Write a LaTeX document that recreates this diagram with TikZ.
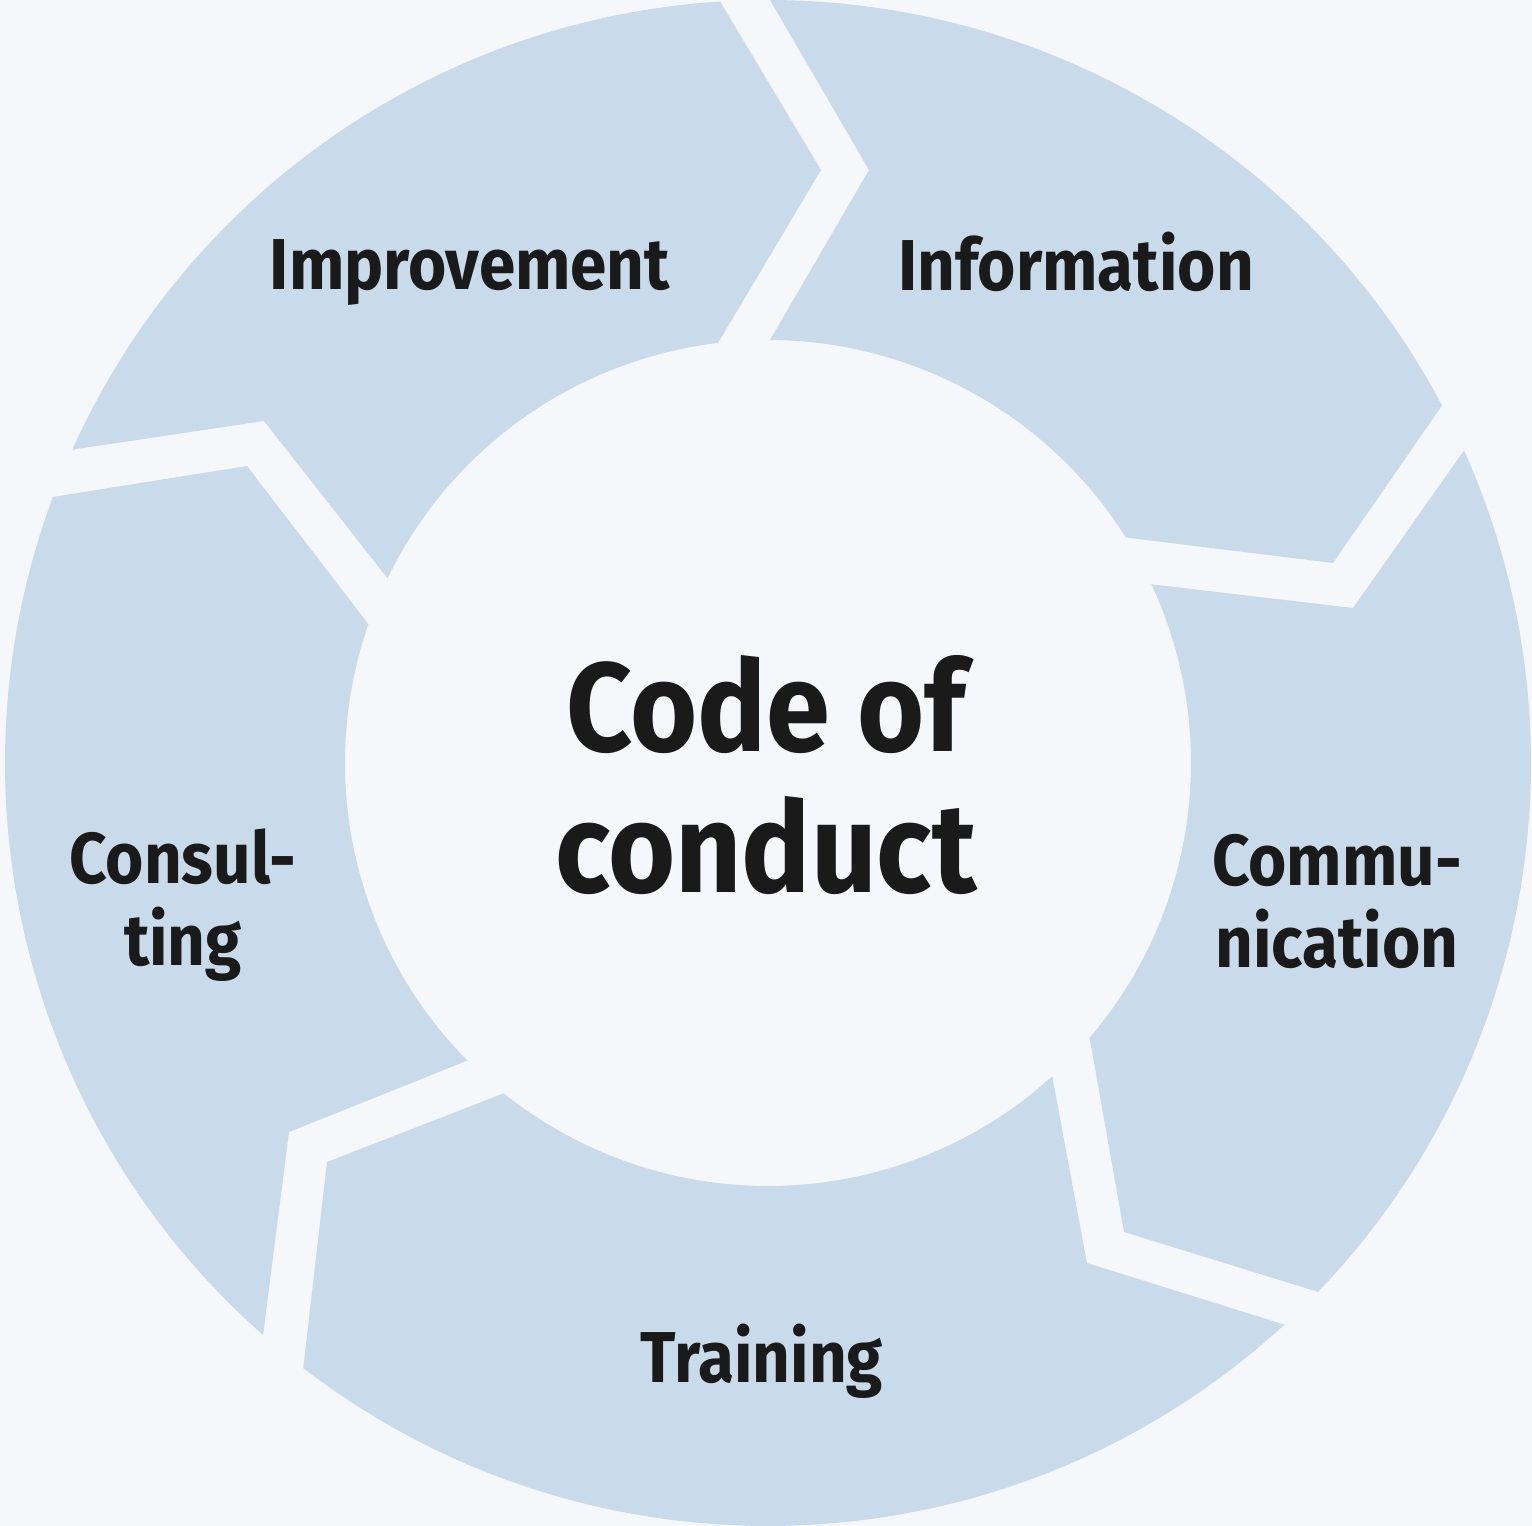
\documentclass[tikz,border=0pt]{standalone}
\usepackage{fontspec}
\setsansfont{Fira Sans}[FakeStretch=0.91]
\definecolor{ringBlue}{RGB}{201,219,234}
\definecolor{paperGray}{RGB}{245,247,251}
\definecolor{inkBlack}{RGB}{26,26,26}
\usepackage{tikz}

\tikzset{
  segment/.style={fill=ringBlue,draw=none},
  steplabel/.style={font=\sffamily\bfseries\fontsize{20.5}{23.3}\selectfont,
                    text=inkBlack,align=center,inner sep=0pt,anchor=base},
  corelabel/.style={font=\sffamily\bfseries\fontsize{36}{40}\selectfont,
                    text=inkBlack,align=center,inner sep=0pt,anchor=base}
}

\begin{document}
\begin{tikzpicture}[x=0.01cm,y=0.01cm]
    \useasboundingbox (-768,-763) rectangle (764,763);
    \fill[paperGray] (-768,-763) rectangle (764,763);
    % ring of five arrow segments, running clockwise
    \fill[segment] (155.75:763) arc[start angle=155.75,end angle=93.6,radius=763]
        -- (53,593) -- (96.79:423) arc[start angle=96.79,end angle=154.1,radius=423]
        -- (-504,342) -- cycle;
    \fill[segment] (89.85:763) arc[start angle=89.85,end angle=27.94,radius=763]
        -- (565,200) -- (32.22:423) arc[start angle=32.22,end angle=89.73,radius=423]
        -- (101,593) -- cycle;
    \fill[segment] (24.18:763) arc[start angle=24.18,end angle=-43.88,radius=763]
        -- (356,-469) -- (-40.5:423) arc[start angle=-40.5,end angle=25,radius=423]
        -- (585,155) -- cycle;
    \fill[segment] (-47.4:763) arc[start angle=-47.4,end angle=-127.53,radius=763]
        -- (-441,-399) -- (-128.66:423) arc[start angle=-128.66,end angle=-47.77,radius=423]
        -- (319,-500) -- cycle;
    \fill[segment] (228.57:763) arc[start angle=228.57,end angle=159.59,radius=763]
        -- (-521,297) -- (160.84:423) arc[start angle=160.84,end angle=224.71,radius=423]
        -- (-479,-369) -- cycle;

    % labels sit on the baseline of their last line
    \node[steplabel] (improvement) at (-298,474) {Improvement};
    \node[steplabel] (information) at (308,473) {Information};
    \node[steplabel] (communication) at (569,-204) {Commu-\\nication};
    \node[steplabel] (training) at (-6,-619) {Training};
    \node[steplabel] (consulting) at (-585,-202) {Consul-\\ting};
    \node[corelabel] (core) at (-2,-129) {Code of\\conduct};
\end{tikzpicture}
\end{document}
